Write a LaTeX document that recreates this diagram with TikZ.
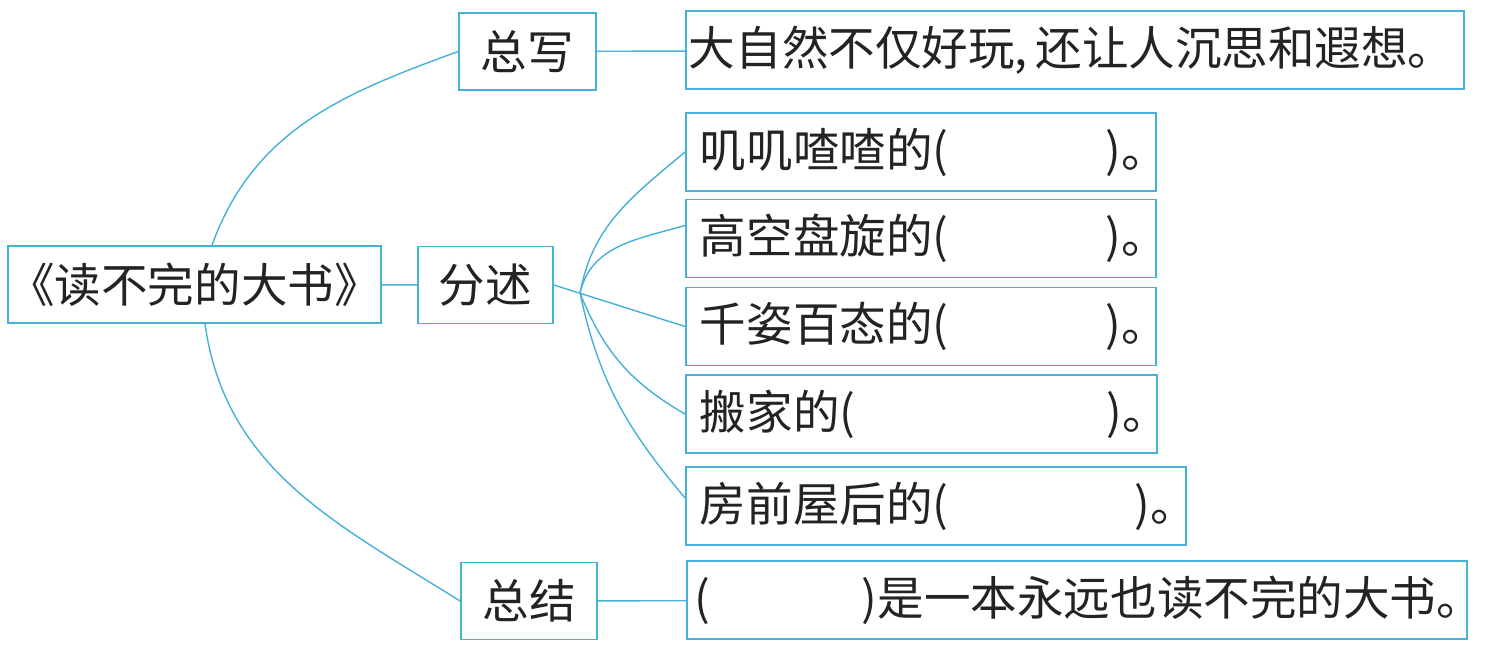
\documentclass[tikz,border=0pt]{standalone}
\usepackage{fontspec}
\setmainfont{Noto Sans CJK SC}
\definecolor{linecol}{RGB}{70,176,214}
\definecolor{inkcol}{RGB}{35,35,35}
\begin{document}
\begin{tikzpicture}[x=0.02cm,y=0.02cm,
    every node/.style={font=\fontsize{26.5}{30}\selectfont, text=inkcol},
    topic/.style={draw=linecol, line width=1pt, inner xsep=0pt, inner ysep=0pt, minimum height=1.54cm},
    sent/.style={draw=linecol, line width=1pt, anchor=west, inner xsep=0.28cm, inner ysep=0pt,
        minimum height=1.56cm, text width=#1, align=left},
    link/.style={draw=linecol, line width=0.8pt}]
\useasboundingbox (0,0) rectangle (1486,649);
% left column
\node[topic, minimum width=6.98cm] (book) at (194.5,364.5) {《读不完的大书》};
\node[topic, minimum width=2.7cm] (fenshu) at (485.5,364) {分述};
\node[topic, minimum width=2.74cm] (zongxie) at (527.5,597.5) {总写};
\node[topic, minimum width=2.72cm] (zongjie) at (529,48) {总结};
% right column
\node[sent=15.44cm, inner xsep=0.06cm] (s0) at (685,599) {\mbox{大自然不仅好玩,\,还让人沉思和遐想。}};
\node[sent=8.84cm] (s1) at (685,497) {\mbox{叽叽喳喳的(\hspace{3.38em})。}};
\node[sent=8.84cm] (s2) at (685,410.5) {\mbox{高空盘旋的(\hspace{3.38em})。}};
\node[sent=8.84cm] (s3) at (685,322.5) {\mbox{千姿百态的(\hspace{3.38em})。}};
\node[sent=8.86cm] (s4) at (685,235) {\mbox{搬家的(\hspace{5.4em})。}};
\node[sent=9.44cm] (s5) at (685,143) {\mbox{房前屋后的(\hspace{4em})。}};
\node[sent=15.28cm, inner xsep=0.16cm] (s6) at (686,49) {\mbox{(\hspace{3.25em})是一本永远也读不完的大书。}};
% connectors
\draw[link] (book) -- (fenshu);
\draw[link] (zongxie) -- (s0);
\draw[link] (zongjie) -- (s6);
\draw[link] ([xshift=0.35cm]book.north) to[out=70,in=200] (zongxie.west);
\draw[link] ([xshift=0.21cm]book.south) to[out=-82,in=148] (zongjie.west);
\draw[link] (fenshu.east) -- coordinate[pos=0.2] (fan) (s3.west);
\foreach \s/\o/\i/\d in {s1/80/220/0, s2/78/196/0.26, s4/-68/150/0, s5/-78/130/0.16}
    \draw[link] (fan) to[out=\o,in=\i] ([yshift=\d cm]\s.west);
\end{tikzpicture}
\end{document}
